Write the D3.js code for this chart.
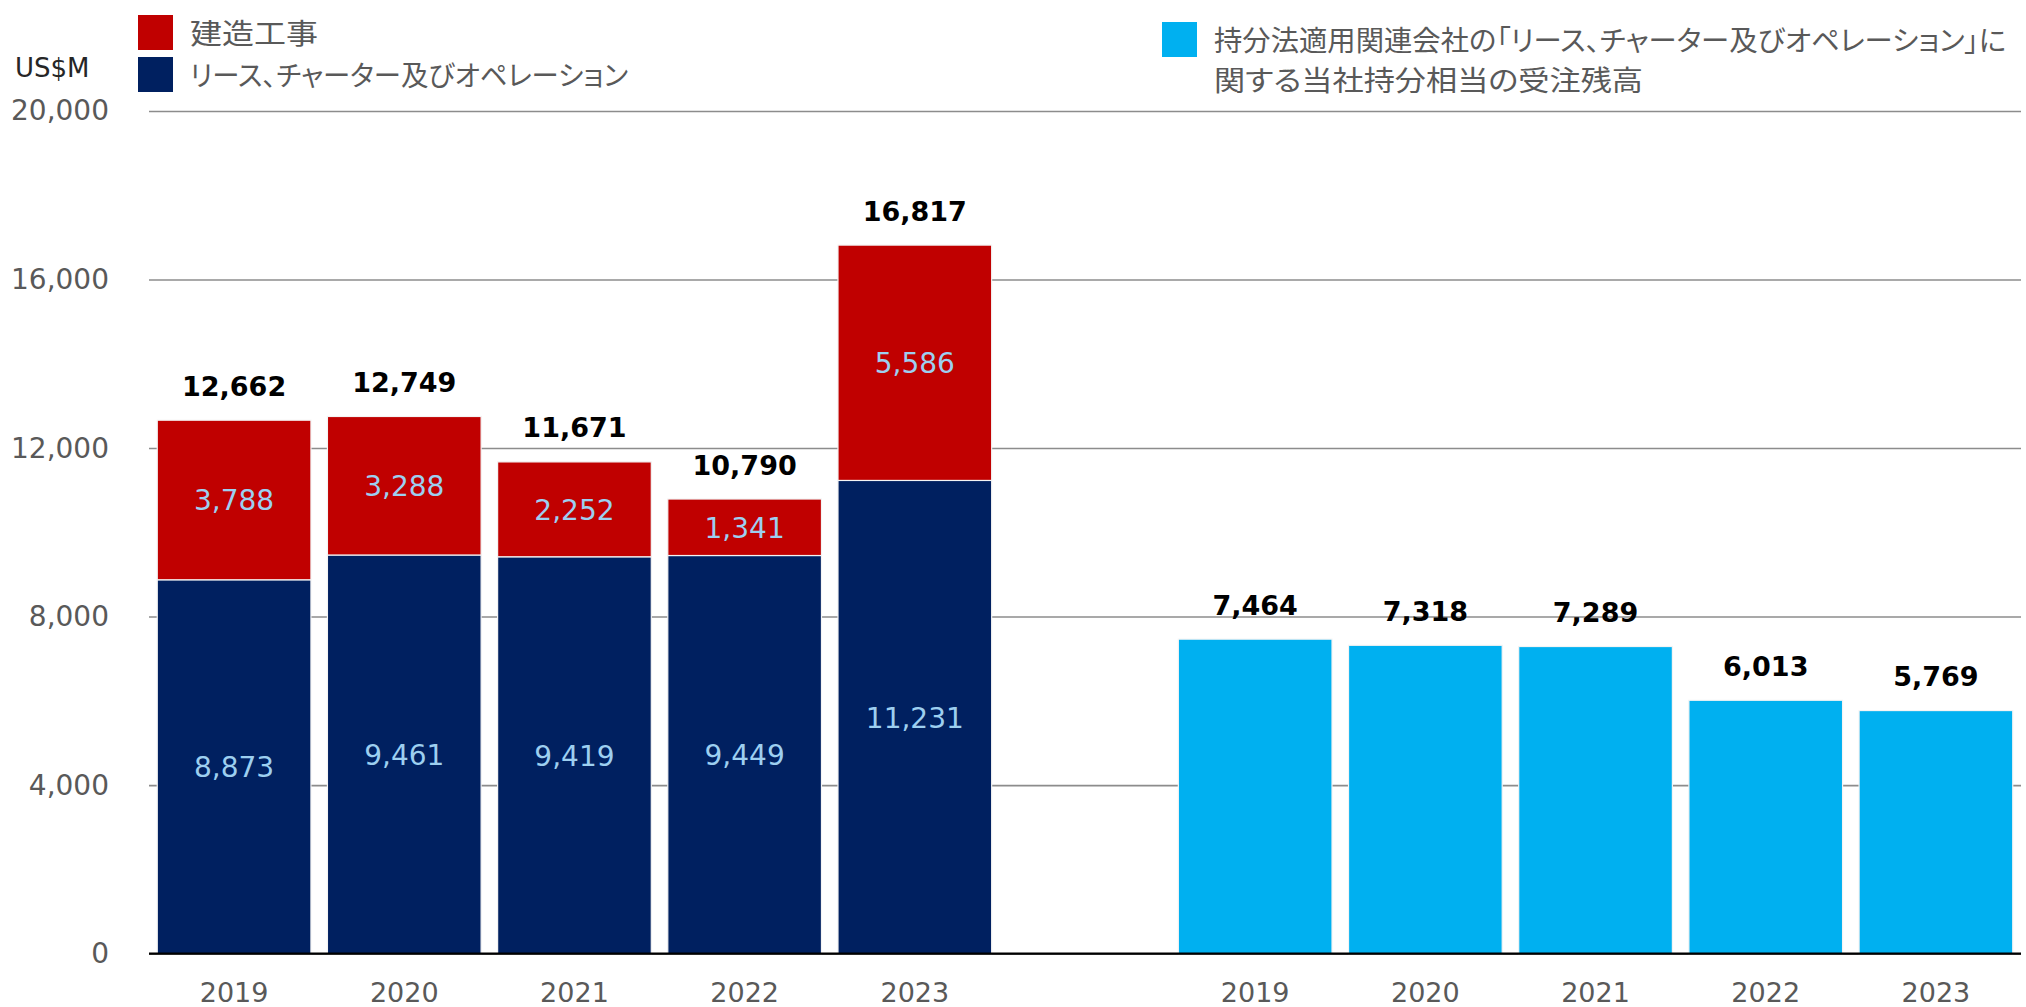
<!DOCTYPE html>
<html>
<head>
<meta charset="utf-8">
<script src="https://cdn.jsdelivr.net/npm/d3@7"></script>
<style>
  body { margin: 0; background: #fff; }
  svg { display: block; }
  .num { font-family: "DejaVu Sans", Verdana, sans-serif; }
  .jp { font-family: "Noto Sans CJK JP", sans-serif; font-feature-settings: "palt"; }
</style>
</head>
<body>
<svg width="2026" height="1007"></svg>
<script>
// order backlog, US$M
const years = ["2019", "2020", "2021", "2022", "2023"];
const construction = [3788, 3288, 2252, 1341, 5586];
const leaseOps = [8873, 9461, 9419, 9449, 11231];
const totals = [12662, 12749, 11671, 10790, 16817];
const equityShare = [7464, 7318, 7289, 6013, 5769];
const yTicks = [0, 4000, 8000, 12000, 16000, 20000];

const colors = { construction: "#C00000", leaseOps: "#002060", equity: "#00B0F0" };

const svg = d3.select("svg");
const fmt = d3.format(",");

const plot = { left: 149, right: 2021, top: 111, bottom: 953.6 };

// 11 slots: five stacked bars, one empty slot, five equity bars
const slots = years.map(y => "a" + y).concat(["gap"], years.map(y => "b" + y));

const x = d3.scaleBand()
  .domain(slots)
  .range([plot.left, plot.right])
  .paddingInner(0.097)
  .paddingOuter(0.0485);

const y = d3.scaleLinear().domain([0, 20000]).range([plot.bottom, plot.top]);

// grid + y labels
const yAxis = svg.append("g")
  .attr("transform", `translate(${plot.left},0)`)
  .call(d3.axisLeft(y).tickValues(yTicks).tickFormat(fmt)
    .tickSizeInner(-(plot.right - plot.left)).tickSizeOuter(0).tickPadding(40));
yAxis.select(".domain").remove();
yAxis.selectAll("line").attr("stroke", "#8c8c8c").attr("stroke-width", 1.6);
yAxis.selectAll("text")
  .attr("class", "num")
  .attr("fill", "#595959")
  .style("font-size", "28px");

// stacked bars
const rows = years.map((yr, i) => ({ year: yr, leaseOps: leaseOps[i], construction: construction[i] }));
const stack = d3.stack().keys(["leaseOps", "construction"])(rows);

const gStack = svg.append("g");
stack.forEach(layer => {
  gStack.selectAll(null)
    .data(layer)
    .enter()
    .append("rect")
    .attr("x", d => x("a" + d.data.year))
    .attr("width", x.bandwidth())
    .attr("y", d => y(d[1]))
    .attr("height", d => y(d[0]) - y(d[1]))
    .attr("fill", colors[layer.key])
    .attr("stroke", "#f4f4f4")
    .attr("stroke-width", 1.2);

  gStack.selectAll(null)
    .data(layer)
    .enter()
    .append("text")
    .attr("class", "num")
    .attr("x", d => x("a" + d.data.year) + x.bandwidth() / 2)
    .attr("y", d => (y(d[0]) + y(d[1])) / 2 + 1)
    .attr("text-anchor", "middle")
    .attr("dominant-baseline", "central")
    .attr("fill", "#9DCFF0")
    .style("font-size", "28px")
    .text(d => fmt(d.data[layer.key]));
});

gStack.selectAll(null)
  .data(years)
  .enter()
  .append("text")
  .attr("class", "num")
  .attr("x", d => x("a" + d) + x.bandwidth() / 2)
  .attr("y", (d, i) => y(construction[i] + leaseOps[i]) - 34)
  .attr("text-anchor", "middle")
  .attr("dominant-baseline", "central")
  .attr("font-weight", "bold")
  .attr("fill", "#000")
  .style("font-size", "27px")
  .text((d, i) => fmt(totals[i]));

// equity-method share bars
const gEq = svg.append("g");
gEq.selectAll("rect")
  .data(years)
  .enter()
  .append("rect")
  .attr("x", d => x("b" + d))
  .attr("width", x.bandwidth())
  .attr("y", (d, i) => y(equityShare[i]))
  .attr("height", (d, i) => plot.bottom - y(equityShare[i]))
  .attr("fill", colors.equity)
  .attr("stroke", "#f4f4f4")
  .attr("stroke-width", 1.2);

gEq.selectAll("text")
  .data(years)
  .enter()
  .append("text")
  .attr("class", "num")
  .attr("x", d => x("b" + d) + x.bandwidth() / 2)
  .attr("y", (d, i) => y(equityShare[i]) - 34)
  .attr("text-anchor", "middle")
  .attr("dominant-baseline", "central")
  .attr("font-weight", "bold")
  .attr("fill", "#000")
  .style("font-size", "27px")
  .text((d, i) => fmt(equityShare[i]));

// x axis
const xAxis = svg.append("g")
  .attr("transform", `translate(0,${plot.bottom})`)
  .call(d3.axisBottom(x).tickSize(0).tickPadding(28)
    .tickFormat(d => d === "gap" ? "" : d.slice(1)));
xAxis.select(".domain").attr("stroke", "#000").attr("stroke-width", 2.2)
  .attr("d", `M${plot.left},0H${plot.right}`);
xAxis.selectAll("text")
  .attr("class", "num")
  .attr("fill", "#595959")
  .attr("dy", "0.32em")
  .attr("y", 40)
  .style("font-size", "27px");

// unit
svg.append("text")
  .attr("class", "num")
  .attr("x", 15)
  .attr("y", 68)
  .attr("dominant-baseline", "central")
  .attr("fill", "#262626")
  .style("font-size", "26px")
  .text("US$M");

// legend
const legend = [
  { x: 138, y: 15, color: colors.construction, lines: ["建造工事"], widths: [128] },
  { x: 138, y: 57, color: colors.leaseOps, lines: ["リース、チャーター及びオペレーション"], widths: [438] },
  { x: 1162, y: 22, color: colors.equity,
    lines: ["持分法適用関連会社の「リース、チャーター及びオペレーション」に", "関する当社持分相当の受注残高"],
    widths: [792, 429] }
];

legend.forEach(item => {
  svg.append("rect")
    .attr("x", item.x).attr("y", item.y)
    .attr("width", 35).attr("height", 35)
    .attr("fill", item.color);
  item.lines.forEach((line, j) => {
    svg.append("text")
      .attr("class", "jp")
      .attr("x", item.x + 52)
      .attr("y", item.y + 17 + j * 40)
      .attr("dominant-baseline", "central")
      .attr("fill", "#595959")
      .attr("textLength", item.widths[j])
      .attr("lengthAdjust", "spacingAndGlyphs")
      .style("font-size", "28px")
      .text(line);
  });
});
</script>
</body>
</html>
